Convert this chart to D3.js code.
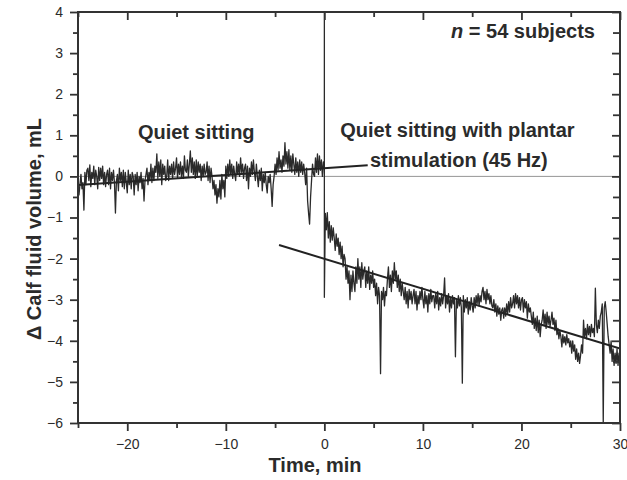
<!DOCTYPE html>
<html>
<head>
<meta charset="utf-8">
<script src="https://cdn.jsdelivr.net/npm/d3@7"></script>
<style>
  body { margin: 0; background: #fff; }
  svg text { font-family: "Liberation Sans", Arial, Helvetica, sans-serif; fill: #2b2b2b; }
</style>
</head>
<body>
<div id="chart"></div>
<script>
// sampling of the traces (min)
const step = 0.1;
const preStart = -25;
const postStart = 0.1;

// quiet sitting, -25.0 .. -0.1 min (mL), one row per minute
const preValues = [
  -0.1, -0.45, -0.2, 0.05, -0.3, -0.15, -0.82, 0.1, -0.2, 0.15,
  0.2, -0.1, 0.28, -0.25, 0.1, -0.05, 0.25, -0.2, 0.15, 0.0,
  -0.3, 0.22, -0.1, 0.2, -0.05, 0.25, -0.2, 0.1, -0.25, 0.05,
  0.15, -0.2, 0.2, -0.3, 0.1, -0.1, 0.15, -0.15, -0.89, -0.1,
  0.05, -0.35, 0.2, -0.1, 0.1, -0.25, 0.15, -0.3, 0.1, -0.15,
  -0.4, 0.15, -0.2, 0.05, -0.3, 0.1, 0.0, -0.45, 0.05, -0.2,
  0.1, -0.35, 0.0, -0.15, 0.1, -0.3, -0.05, -0.6, -0.1, 0.05,
  0.2, -0.2, 0.1, -0.1, 0.3, -0.15, 0.2, -0.1, 0.25, 0.1,
  0.55, -0.05, 0.35, 0.0, 0.4, -0.2, 0.3, 0.05, 0.25, -0.1,
  0.0, 0.4, -0.1, 0.25, 0.05, 0.3, -0.05, 0.35, 0.05, 0.2,
  0.45, -0.05, 0.3, 0.05, 0.35, 0.0, 0.25, -0.05, 0.5, 0.15,
  0.1, 0.4, 0.0, 0.3, 0.62, 0.1, 0.45, 0.05, 0.35, -0.05,
  0.4, 0.0, 0.35, 0.1, 0.3, -0.1, 0.25, 0.0, 0.3, 0.05,
  0.1, 0.35, -0.1, 0.25, -0.15, 0.2, 0.0, -0.3, -0.1, -0.45,
  -0.2, -0.65, -0.3, -0.5, -0.1, -0.55, 0.05, -0.3, -0.1, -0.5,
  0.25, -0.05, 0.3, 0.0, 0.4, 0.05, 0.3, -0.05, 0.25, 0.05,
  -0.1, 0.35, 0.05, 0.3, 0.0, 0.45, 0.1, 0.3, -0.05, 0.2,
  0.3, -0.1, 0.25, -0.3, 0.2, 0.0, 0.35, 0.05, 0.4, 0.1,
  -0.1, 0.3, 0.0, -0.25, 0.15, -0.1, 0.2, -0.35, 0.05, -0.15,
  0.1, -0.2, -0.4, 0.0, -0.15, 0.05, -0.3, -0.73, -0.2, 0.0,
  0.3, 0.05, 0.45, 0.15, 0.6, 0.2, 0.4, 0.1, 0.5, 0.25,
  0.82, 0.3, 0.6, 0.2, 0.65, 0.15, 0.5, 0.1, 0.55, 0.3,
  0.05, 0.45, 0.1, 0.35, 0.0, 0.4, 0.1, 0.35, 0.05, 0.3,
  0.1, -0.2, 0.2, -0.6, -0.9, -1.16, -0.5, -0.1, 0.3, 0.05,
  0.0, 0.45, 0.1, 0.55, 0.05, 0.5, 0.15, 0.4, 0.0, 0.35
];

// artefact at stimulation onset, all at t = 0
const onsetValues = [0.2, 4, -2.94];

// plantar stimulation, 0.1 .. 30.0 min (mL), one row per minute
const postValues = [
  -0.9, -1.3, -0.88, -1.5, -1.1, -1.6, -1.2, -1.55, -1.25, -1.5,
  -1.8, -1.4, -1.7, -1.5, -1.9, -1.6, -2.0, -1.7, -2.2, -1.9,
  -2.0, -2.5, -2.2, -2.6, -2.3, -3.0, -2.4, -2.8, -2.3, -2.6,
  -2.8, -2.2, -2.6, -2.0, -2.5, -2.2, -2.7, -2.1, -2.5, -2.3,
  -2.2, -2.7, -2.3, -2.6, -2.2, -2.75, -2.4, -2.6, -2.3, -2.7,
  -2.5, -2.9, -2.6, -3.1, -2.7, -2.9, -4.8, -2.8, -3.0, -2.7,
  -3.15, -2.8, -2.9, -2.5, -2.2, -2.7, -2.4, -2.8, -2.3, -2.6,
  -2.1, -2.5, -2.3, -2.7, -2.4, -2.8, -2.5, -2.9, -2.6, -2.8,
  -3.0, -2.7, -3.1, -2.8, -3.2, -2.75, -3.0, -2.8, -3.1, -2.9,
  -2.75, -3.1, -2.8, -3.25, -2.9, -3.1, -2.8, -3.0, -2.7, -3.0,
  -3.2, -2.8, -3.1, -2.9, -3.3, -2.85, -3.1, -2.75, -3.05, -2.9,
  -2.9, -3.2, -2.85, -3.1, -2.8, -3.25, -2.95, -3.15, -2.85, -3.1,
  -2.9, -2.47, -3.2, -2.9, -3.1, -2.85, -3.3, -2.95, -3.2, -2.9,
  -3.1, -2.95, -4.39, -3.0, -3.2, -2.9, -3.15, -2.95, -3.2, -5.03,
  -2.9, -3.3, -3.0, -3.2, -2.95, -3.35, -3.05, -3.25, -2.95, -3.15,
  -3.3, -2.95, -3.2, -2.9, -3.1, -2.85, -3.15, -2.9, -3.05, -2.8,
  -2.7, -3.0, -2.8, -3.1, -2.75, -3.0, -2.85, -3.1, -2.9, -3.15,
  -3.2, -3.0, -3.3, -3.1, -3.4, -3.15, -3.35, -3.2, -3.5, -3.25,
  -3.2, -3.45, -3.2, -3.4, -3.1, -3.35, -3.05, -3.3, -2.95, -3.2,
  -3.1, -2.9, -3.2, -2.85, -3.1, -2.9, -3.2, -2.95, -3.25, -3.0,
  -2.95, -3.3, -3.0, -3.2, -3.05, -3.45, -3.1, -3.3, -3.2, -3.4,
  -3.6, -3.3, -3.7, -3.45, -3.75, -3.4, -3.8, -3.5, -3.9, -3.6,
  -3.5, -3.25, -3.6, -3.35, -3.7, -3.3, -3.6, -3.4, -3.65, -3.5,
  -3.3, -3.6, -3.45, -3.75, -3.5, -3.85, -3.7, -3.95, -3.75, -3.9,
  -4.15, -3.85, -4.05, -3.9, -4.1, -3.85, -4.05, -3.95, -4.15, -4.0,
  -4.3, -4.0, -4.25, -4.1, -4.45, -4.2, -4.5, -4.3, -4.55, -4.35,
  -4.1, -4.3, -3.5, -3.9, -3.7, -3.95, -3.6, -3.85, -3.65, -3.9,
  -3.6, -3.8, -3.7, -3.9, -2.72, -3.6, -3.8, -3.5, -3.7, -3.4,
  -3.3, -3.1, -6.0, -3.2, -3.05, -3.3, -3.6, -3.9, -4.1, -4.3,
  -4.0, -4.5, -4.2, -4.6, -4.3, -4.55, -4.2, -4.6, -4.3, -4.45
];

// regression lines
const preFitTimes = [-25, 4.4];
const preFitValues = [-0.21, 0.27];
const postFitTimes = [-4.6, 30];
const postFitValues = [-1.67, -4.19];

const xMajorTicks = [-20, -10, 0, 10, 20, 30];
const xMinorTicks = [-25, -15, -5, 5, 15, 25];
const yMajorTicks = [-6, -5, -4, -3, -2, -1, 0, 1, 2, 3, 4];
const yMinorTicks = [-5.5, -4.5, -3.5, -2.5, -1.5, -0.5, 0.5, 1.5, 2.5, 3.5];

const width = 627, height = 480;
const margin = { top: 12, right: 7, bottom: 57, left: 78 };

const svg = d3.select("#chart")
    .append("svg")
    .attr("width", width)
    .attr("height", height);

const x = d3.scaleLinear().domain([-25, 30]).range([margin.left, width - margin.right]);
const y = d3.scaleLinear().domain([-6, 4]).range([height - margin.bottom, margin.top]);

svg.append("clipPath").attr("id", "plot-clip")
    .append("rect")
    .attr("x", x(-25)).attr("y", y(4))
    .attr("width", x(30) - x(-25)).attr("height", y(-6) - y(4));

const plot = svg.append("g").attr("clip-path", "url(#plot-clip)");

// zero reference
plot.append("line")
    .attr("x1", x(-25)).attr("x2", x(30))
    .attr("y1", y(0)).attr("y2", y(0))
    .attr("stroke", "#8a8a8a")
    .attr("stroke-width", 0.9);

// build trace points
const trace = [];
preValues.forEach((v, i) => trace.push({ t: preStart + i * step, v }));
onsetValues.forEach(v => trace.push({ t: 0, v }));
postValues.forEach((v, i) => trace.push({ t: postStart + i * step, v }));

const line = d3.line().x(d => x(d.t)).y(d => y(d.v));

plot.append("path")
    .datum(trace)
    .attr("fill", "none")
    .attr("stroke", "#2a2a2a")
    .attr("stroke-width", 1.3)
    .attr("stroke-linejoin", "round")
    .attr("d", line);

const fits = [
    preFitTimes.map((t, i) => ({ t, v: preFitValues[i] })),
    postFitTimes.map((t, i) => ({ t, v: postFitValues[i] }))
];

plot.selectAll("path.fit")
    .data(fits)
    .join("path")
    .attr("class", "fit")
    .attr("fill", "none")
    .attr("stroke", "#222")
    .attr("stroke-width", 2)
    .attr("d", line);

// axes
const styleAxis = g => {
    g.select(".domain").remove();
    g.selectAll(".tick line").attr("stroke", "#333").attr("stroke-width", 1.8);
    g.selectAll(".tick text").attr("fill", "#333").style("font-size", "14px");
};

const bottomY = y(-6), topY = y(4), leftX = x(-25), rightX = x(30);

svg.append("g").attr("transform", `translate(0,${bottomY})`)
    .call(d3.axisBottom(x).tickValues(xMinorTicks).tickSize(5).tickFormat(""))
    .call(styleAxis);
svg.append("g").attr("transform", `translate(0,${bottomY})`)
    .call(d3.axisBottom(x).tickValues(xMajorTicks).tickSize(8).tickPadding(8).tickFormat(d3.format("d")))
    .call(styleAxis);

svg.append("g").attr("transform", `translate(0,${topY})`)
    .call(d3.axisTop(x).tickValues(xMinorTicks).tickSize(-5).tickFormat(""))
    .call(styleAxis);
svg.append("g").attr("transform", `translate(0,${topY})`)
    .call(d3.axisTop(x).tickValues(xMajorTicks).tickSize(-8).tickFormat(""))
    .call(styleAxis);

svg.append("g").attr("transform", `translate(${leftX},0)`)
    .call(d3.axisLeft(y).tickValues(yMinorTicks).tickSize(5).tickFormat(""))
    .call(styleAxis);
svg.append("g").attr("transform", `translate(${leftX},0)`)
    .call(d3.axisLeft(y).tickValues(yMajorTicks).tickSize(8).tickPadding(7).tickFormat(d3.format("d")))
    .call(styleAxis);

svg.append("g").attr("transform", `translate(${rightX},0)`)
    .call(d3.axisRight(y).tickValues(yMinorTicks).tickSize(-7).tickFormat(""))
    .call(styleAxis);
svg.append("g").attr("transform", `translate(${rightX},0)`)
    .call(d3.axisRight(y).tickValues(yMajorTicks).tickSize(-8).tickFormat(""))
    .call(styleAxis);

svg.append("rect")
    .attr("x", leftX).attr("y", topY)
    .attr("width", rightX - leftX).attr("height", bottomY - topY)
    .attr("fill", "none")
    .attr("stroke", "#333")
    .attr("stroke-width", 2);

// axis titles
svg.append("text")
    .attr("x", 315)
    .attr("y", 472)
    .attr("text-anchor", "middle")
    .style("font-size", "20px")
    .style("font-weight", "bold")
    .text("Time, min");

svg.append("text")
    .attr("transform", "translate(41,229) rotate(-90)")
    .attr("text-anchor", "middle")
    .style("font-size", "20px")
    .style("font-weight", "bold")
    .text("\u0394 Calf fluid volume, mL");

// annotations
const notes = svg.append("g")
    .style("font-size", "20px")
    .style("font-weight", "bold");

notes.append("text")
    .attr("x", x(-13.0)).attr("y", y(0.9))
    .attr("text-anchor", "middle")
    .text("Quiet sitting");

notes.append("text")
    .attr("x", x(13.5)).attr("y", y(0.97))
    .attr("text-anchor", "middle")
    .text("Quiet sitting with plantar");

notes.append("text")
    .attr("x", x(13.65)).attr("y", y(0.24))
    .attr("text-anchor", "middle")
    .text("stimulation (45 Hz)");

const nText = notes.append("text")
    .attr("x", x(27.46)).attr("y", y(3.36))
    .attr("text-anchor", "end");
nText.append("tspan").style("font-style", "italic").text("n");
nText.append("tspan").text(" = 54 subjects");
</script>
</body>
</html>
